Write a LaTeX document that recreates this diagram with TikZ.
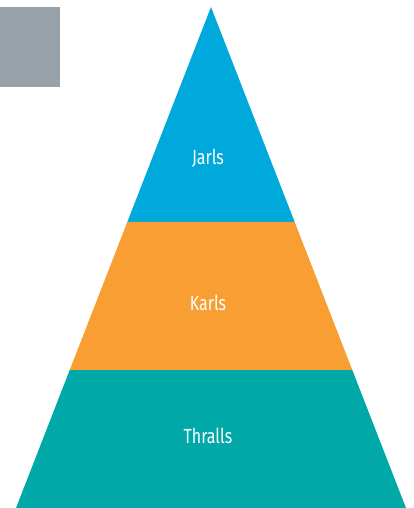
\documentclass[tikz,border=0pt]{standalone}
\usepackage{fontspec}
\setmainfont[FakeStretch=0.78]{Fira Sans}
\usetikzlibrary{calc}
\definecolor{jarlblue}{HTML}{00A9DC}
\definecolor{karlorange}{HTML}{F89E33}
\definecolor{thrallteal}{HTML}{00A8A8}
\definecolor{boxgray}{HTML}{96A1AA}
\begin{document}
\begin{tikzpicture}[x=1pt, y=-1pt, font=\fontsize{20.5}{24}\selectfont, line join=round]
			\useasboundingbox (0,0) rectangle (414,508);
			\tikzset{tier/.style={text=white, anchor=center}}
			\coordinate (top) at (211,7);
			\coordinate (bl) at (16,508);
			\coordinate (br) at (406,508);
			\coordinate (l1) at ($(top)!0.4291!(bl)$);
			\coordinate (r1) at ($(top)!0.4291!(br)$);
			\coordinate (l2) at ($(top)!0.7246!(bl)$);
			\coordinate (r2) at ($(top)!0.7246!(br)$);
			\fill[boxgray] (0,7) rectangle (60,87);
			\fill[jarlblue] (top)--(r1)--(l1)--cycle;
			\fill[karlorange] (l1)--(r1)--(r2)--(l2)--cycle;
			\fill[thrallteal] (l2)--(r2)--(br)--(bl)--cycle;
			\node[tier] (jarls) at (208,158){Jarls};
			\node[tier] (karls) at (208,303){Karls};
			\node[tier] (thralls) at (208,436){Thralls};
		\end{tikzpicture}
\end{document}
